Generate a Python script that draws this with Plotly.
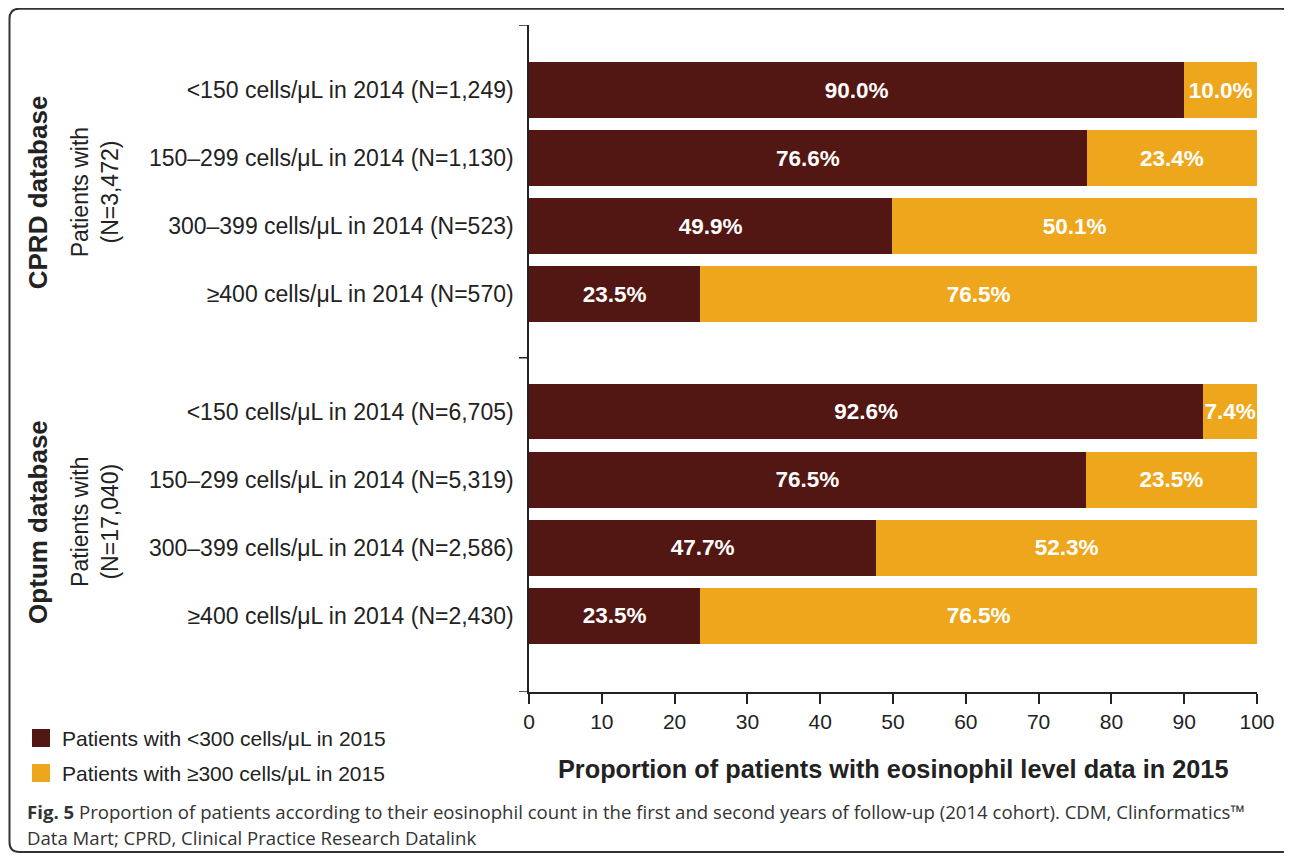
import plotly.graph_objects as go

# ---------------- data ----------------
group_titles = ["CPRD database", "Optum database"]
group_sub = ["Patients with<br>(N=3,472)", "Patients with<br>(N=17,040)"]
row_labels = [
    "<150 cells/μL in 2014 (N=1,249)",
    "150–299 cells/μL in 2014 (N=1,130)",
    "300–399 cells/μL in 2014 (N=523)",
    "≥400 cells/μL in 2014 (N=570)",
    "<150 cells/μL in 2014 (N=6,705)",
    "150–299 cells/μL in 2014 (N=5,319)",
    "300–399 cells/μL in 2014 (N=2,586)",
    "≥400 cells/μL in 2014 (N=2,430)",
]
row_group = [0, 0, 0, 0, 1, 1, 1, 1]
below_300 = [90.0, 76.6, 49.9, 23.5, 92.6, 76.5, 47.7, 23.5]
above_300 = [10.0, 23.4, 50.1, 76.5, 7.4, 23.5, 52.3, 76.5]
series_names = ["Patients with <300 cells/μL in 2015", "Patients with ≥300 cells/μL in 2015"]
x_ticks = [0, 10, 20, 30, 40, 50, 60, 70, 80, 90, 100]
x_title = "Proportion of patients with eosinophil level data in 2015"
caption_l1 = ("<b>Fig. 5</b> Proportion of patients according to their eosinophil count in the first and second "
              "years of follow-up (2014 cohort). CDM, Clinformatics™")
caption_l2 = "Data Mart; CPRD, Clinical Practice Research Datalink"

# ---------------- styling / layout ----------------
OFF = 8                      # page body margin
W, H = 1292 - OFF, 856 - OFF
ML, MR, MT, MB = 529 - OFF, 35, 25 - OFF, 164
PW, PH = W - ML - MR, H - MT - MB
GROUP_GAP = 0.72
DARK, ORANGE = "#531713", "#EEA71D"
TXT = "#222222"
SANS = "Liberation Sans, Arial, sans-serif"
CAP_FONT = "Open Sans, sans-serif"


def px_x(px):  # reference-page pixel -> paper x
    return (px - OFF - ML) / PW


def px_y(py):  # reference-page pixel -> paper y
    return (H - MB - (py - OFF)) / PH


y_pos = [i + g * GROUP_GAP for i, g in enumerate(row_group)]
y_top = y_pos[0] - 0.956
y_bot = y_pos[-1] + 1.118
sep_mid = (y_pos[3] + y_pos[4]) / 2 + 0.07
title_shift = [0.0, 0.12]

fig = go.Figure()
for vals, name, col in [(below_300, series_names[0], DARK), (above_300, series_names[1], ORANGE)]:
    fig.add_trace(go.Bar(
        x=vals, y=y_pos, orientation="h", name=name, width=0.82,
        marker=dict(color=col, line=dict(width=0)),
        texttemplate="%{x:.1f}%", textposition="inside", insidetextanchor="middle",
        textangle=0, constraintext="none",
        textfont=dict(family=SANS, size=22.5, color="white", weight="bold"),
        hoverinfo="skip", showlegend=False,
    ))

fig.update_layout(
    width=W, height=H, barmode="stack",
    margin=dict(l=ML, r=MR, t=MT, b=MB),
    paper_bgcolor="white", plot_bgcolor="white",
    uniformtext=dict(minsize=22, mode="show"),
    font=dict(family=SANS, color=TXT),
    xaxis=dict(range=[0, 100], tickvals=x_ticks, ticks="outside", ticklen=10, tickwidth=1.5,
               tickcolor=TXT, showline=True, linecolor=TXT, linewidth=1.5, showgrid=False,
               zeroline=False, tickfont=dict(family=SANS, size=21, color=TXT)),
    yaxis=dict(range=[y_bot, y_top], tickvals=y_pos, ticktext=row_labels, ticks="",
               showline=True, linecolor=TXT, linewidth=1.5, showgrid=False, zeroline=False,
               ticklabelstandoff=9, tickfont=dict(family=SANS, size=23, color=TXT)),
)

# separator ticks on the category axis
for yv in [y_top, sep_mid, y_bot]:
    fig.add_shape(type="line", xref="paper", yref="y", x0=px_x(519), x1=0, y0=yv, y1=yv,
                  line=dict(color=TXT, width=1.5))

# group titles
for g, (title, sub) in enumerate(zip(group_titles, group_sub)):
    rows = [y for y, gg in zip(y_pos, row_group) if gg == g]
    yc = (rows[0] + rows[-1]) / 2 + title_shift[g]
    fig.add_annotation(text=f"<b>{title}</b>", x=px_x(38), y=yc, xref="paper", yref="y",
                       textangle=-90, showarrow=False, xanchor="center", yanchor="middle",
                       font=dict(family=SANS, size=26, color=TXT))
    fig.add_annotation(text=sub, x=px_x(95), y=yc, xref="paper", yref="y",
                       textangle=-90, showarrow=False, xanchor="center", yanchor="middle",
                       font=dict(family=SANS, size=23, color=TXT))

# manual legend (larger squares than plotly's bar legend icons)
for i, (name, col) in enumerate(zip(series_names, [DARK, ORANGE])):
    top = 729 + i * 35
    fig.add_shape(type="rect", xref="paper", yref="paper",
                  x0=px_x(32), x1=px_x(50), y0=px_y(top), y1=px_y(top + 18),
                  fillcolor=col, line=dict(width=0))
    fig.add_annotation(text=name, x=px_x(60), y=px_y(top + 9), xref="paper", yref="paper",
                       showarrow=False, xanchor="left", yanchor="middle",
                       font=dict(family=SANS, size=21, color=TXT))

# x-axis title
fig.add_annotation(text=f"<b>{x_title}</b>", x=0.5, y=px_y(769), xref="paper", yref="paper",
                   showarrow=False, xanchor="center", yanchor="middle",
                   font=dict(family=SANS, size=25.3, color=TXT))

# caption
fig.add_annotation(text=caption_l1, x=px_x(25), y=px_y(811), xref="paper", yref="paper",
                   showarrow=False, xanchor="left", yanchor="middle",
                   font=dict(family=CAP_FONT, size=18.6, color="#333333"))
fig.add_annotation(text=caption_l2, x=px_x(25), y=px_y(837), xref="paper", yref="paper",
                   showarrow=False, xanchor="left", yanchor="middle",
                   font=dict(family=CAP_FONT, size=18.6, color="#333333"))

# rounded border
L, R, T, B, r = 9.5, 1291, 8.7, 852, 10
path = (f"M{px_x(L + r)},{px_y(T)} L{px_x(R - r)},{px_y(T)} Q{px_x(R)},{px_y(T)} {px_x(R)},{px_y(T + r)} "
        f"L{px_x(R)},{px_y(B - r)} Q{px_x(R)},{px_y(B)} {px_x(R - r)},{px_y(B)} "
        f"L{px_x(L + r)},{px_y(B)} Q{px_x(L)},{px_y(B)} {px_x(L)},{px_y(B - r)} "
        f"L{px_x(L)},{px_y(T + r)} Q{px_x(L)},{px_y(T)} {px_x(L + r)},{px_y(T)} Z")
fig.add_shape(type="path", path=path, xref="paper", yref="paper",
              line=dict(color="#333333", width=2), layer="below")

fig.write_html("out.html")
